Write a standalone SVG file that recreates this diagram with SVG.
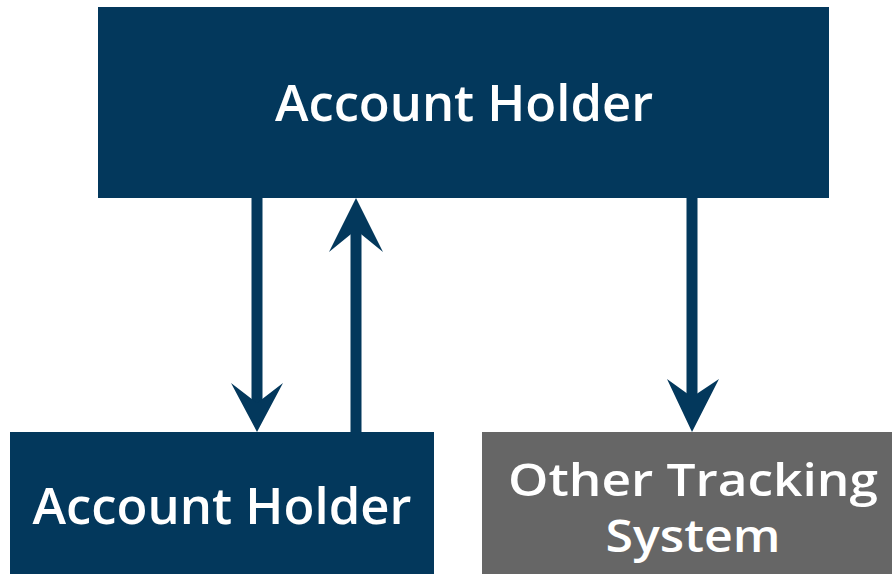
<svg xmlns="http://www.w3.org/2000/svg" width="892" height="574" viewBox="0 0 892 574">
<style>
.n{fill:#03385c}
.g{fill:#666666}
.t{fill:#ffffff;font-family:"Open Sans","DejaVu Sans",sans-serif;font-weight:600;font-size:50px;text-anchor:middle}
.s{font-size:46px}
.l{stroke:#03385c;stroke-width:11;fill:none}
.h{fill:#03385c}
</style>
<rect width="892" height="574" fill="#ffffff"/>
<g id="connectors">
<line class="l" x1="257" y1="198" x2="257" y2="405"/>
<polygon class="h" points="231,383 257,403 283,383 257,432"/>
<line class="l" x1="356" y1="432" x2="356" y2="228"/>
<polygon class="h" points="329,252 356,230 383,252 356,198"/>
<line class="l" x1="692" y1="198" x2="692" y2="400"/>
<polygon class="h" points="667,379 692,397 719,379 692,432"/>
</g>
<g id="top-account-holder">
<rect class="n" x="98" y="7" width="731" height="191"/>
<text class="t" x="464" y="121" textLength="378" lengthAdjust="spacingAndGlyphs">Account Holder</text>
</g>
<g id="bottom-account-holder">
<rect class="n" x="10" y="432" width="424" height="142"/>
<text class="t" x="222" y="524" textLength="379" lengthAdjust="spacingAndGlyphs">Account Holder</text>
</g>
<g id="other-tracking-system">
<rect class="g" x="482" y="432" width="410" height="142"/>
<text class="t s" x="693" y="496" textLength="370" lengthAdjust="spacingAndGlyphs">Other Tracking</text>
<text class="t s" x="693" y="552" textLength="175" lengthAdjust="spacingAndGlyphs">System</text>
</g>
</svg>
